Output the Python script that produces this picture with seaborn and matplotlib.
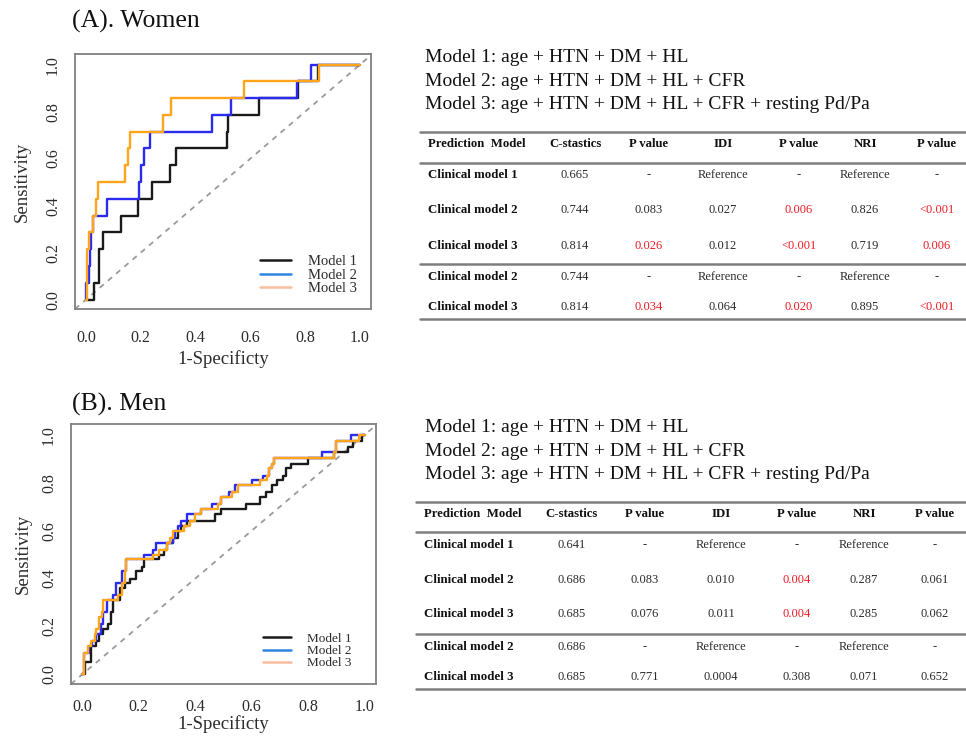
import numpy as np
import pandas as pd
import matplotlib
matplotlib.use("Agg")
import matplotlib.pyplot as plt
from matplotlib.lines import Line2D
import seaborn as sns

# ---------------- data ----------------
models = ["Model 1", "Model 2", "Model 3"]

# Women ROC curves (step vertices)
w_m1_fpr = [0, 0.029, 0.048, 0.062, 0.129, 0.189, 0.24, 0.305, 0.33, 0.513, 0.52, 0.631, 0.775, 0.845, 1.0]
w_m1_tpr = [0, 0.071, 0.214, 0.286, 0.357, 0.429, 0.5, 0.571, 0.643, 0.714, 0.786, 0.857, 0.929, 1.0, 1.0]
w_m2_fpr = [0, 0, 0.01, 0.015, 0.02, 0.025, 0.077, 0.193, 0.2, 0.21, 0.235, 0.459, 0.528, 0.769, 0.82, 1.0]
w_m2_tpr = [0, 0.071, 0.143, 0.214, 0.286, 0.357, 0.429, 0.5, 0.571, 0.643, 0.714, 0.786, 0.857, 0.929, 1.0, 1.0]
w_m3_fpr = [0, 0.003, 0.01, 0.025, 0.035, 0.045, 0.144, 0.153, 0.162, 0.282, 0.309, 0.576, 0.852, 1.0]
w_m3_tpr = [0, 0.214, 0.286, 0.357, 0.429, 0.5, 0.571, 0.643, 0.714, 0.786, 0.857, 0.929, 1.0, 1.0]

# Men ROC curves (step vertices)
m_m1_fpr = [0, 0.01, 0.03, 0.05, 0.06, 0.075, 0.09, 0.10, 0.11, 0.135, 0.15, 0.17, 0.19, 0.21, 0.22, 0.27,
            0.29, 0.30, 0.32, 0.34, 0.35, 0.37, 0.47, 0.49, 0.58, 0.63, 0.65, 0.67, 0.69, 0.71, 0.72, 0.74,
            0.80, 0.89, 0.94, 0.96, 0.99, 1.0]
m_m1_tpr = [0, 0.05, 0.12, 0.14, 0.17, 0.19, 0.21, 0.26, 0.31, 0.36, 0.38, 0.40, 0.43, 0.45, 0.48, 0.50,
            0.52, 0.55, 0.57, 0.60, 0.62, 0.64, 0.67, 0.69, 0.71, 0.74, 0.76, 0.79, 0.81, 0.83, 0.86, 0.88,
            0.905, 0.93, 0.95, 0.976, 1.0, 1.0]
m_m2_fpr = [0, 0.005, 0.025, 0.035, 0.05, 0.065, 0.075, 0.087, 0.11, 0.12, 0.14, 0.155, 0.22, 0.25, 0.26,
            0.32, 0.33, 0.34, 0.35, 0.37, 0.42, 0.46, 0.49, 0.52, 0.54, 0.60, 0.64, 0.66, 0.67, 0.68, 0.85,
            0.90, 0.95, 1.0]
m_m2_tpr = [0, 0.09, 0.12, 0.14, 0.17, 0.21, 0.26, 0.31, 0.33, 0.38, 0.43, 0.48, 0.50, 0.52, 0.55,
            0.57, 0.60, 0.62, 0.64, 0.67, 0.69, 0.71, 0.74, 0.76, 0.79, 0.81, 0.83, 0.86, 0.88, 0.905, 0.93,
            0.976, 1.0, 1.0]
m_m3_fpr = [0, 0.005, 0.02, 0.03, 0.045, 0.05, 0.06, 0.07, 0.075, 0.128, 0.14, 0.15, 0.155, 0.25, 0.27,
            0.30, 0.31, 0.32, 0.36, 0.38, 0.40, 0.42, 0.48, 0.49, 0.53, 0.55, 0.63, 0.655, 0.66, 0.67, 0.68,
            0.89, 0.90, 0.98, 1.0]
m_m3_tpr = [0, 0.09, 0.12, 0.14, 0.17, 0.19, 0.24, 0.26, 0.31, 0.33, 0.38, 0.43, 0.48, 0.50, 0.52,
            0.55, 0.57, 0.60, 0.62, 0.64, 0.67, 0.69, 0.71, 0.74, 0.76, 0.79, 0.81, 0.83, 0.86, 0.88, 0.905,
            0.93, 0.976, 1.0, 1.0]

tick_values = [0.0, 0.2, 0.4, 0.6, 0.8, 1.0]
tick_labels = ["0.0", "0.2", "0.4", "0.6", "0.8", "1.0"]

model_formulas = ["Model 1: age + HTN + DM + HL",
                  "Model 2: age + HTN + DM + HL + CFR",
                  "Model 3: age + HTN + DM + HL + CFR + resting Pd/Pa"]

table_header = ["Prediction  Model", "C-stastics", "P value", "IDI", "P value", "NRI", "P value"]
row_names = ["Clinical model 1", "Clinical model 2", "Clinical model 3", "Clinical model 2", "Clinical model 3"]

w_cstat = ["0.665", "0.744", "0.814", "0.744", "0.814"]
w_cstat_p = ["-", "0.083", "0.026", "-", "0.034"]
w_idi = ["Reference", "0.027", "0.012", "Reference", "0.064"]
w_idi_p = ["-", "0.006", "<0.001", "-", "0.020"]
w_nri = ["Reference", "0.826", "0.719", "Reference", "0.895"]
w_nri_p = ["-", "<0.001", "0.006", "-", "<0.001"]

m_cstat = ["0.641", "0.686", "0.685", "0.686", "0.685"]
m_cstat_p = ["-", "0.083", "0.076", "-", "0.771"]
m_idi = ["Reference", "0.010", "0.011", "Reference", "0.0004"]
m_idi_p = ["-", "0.004", "0.004", "-", "0.308"]
m_nri = ["Reference", "0.287", "0.285", "Reference", "0.071"]
m_nri_p = ["-", "0.061", "0.062", "-", "0.652"]

# ---------------- style ----------------
sns.set_theme(style="white")
plt.rcParams["font.family"] = ["Liberation Serif", "DejaVu Serif"]

W, H = 966, 736
fig = plt.figure(figsize=(W / 100, H / 100), dpi=100)

line_colors = {"Model 1": "#1a1a1a", "Model 2": "#2a2af0", "Model 3": "#ffa51a"}
legend_colors = ["#1a1a1a", "#2f86de", "#f6bd9e"]
axis_gray = "#808080"
text_dark = "#2b2b2b"


def px_rect(l, t, r, b):
    return [l / W, 1 - b / H, (r - l) / W, (b - t) / H]


def build_df(fprs, tprs):
    frames = []
    for name, f, t in zip(models, fprs, tprs):
        frames.append(pd.DataFrame({"fpr": f, "tpr": t, "model": name}))
    return pd.concat(frames, ignore_index=True)


def roc_panel(rect, df, xpad, xlab_y, ylab_x, leg_anchor, leg_fs, leg_spacing):
    ax = fig.add_axes(rect)
    ax.axline((0, 0), (1, 1), color="#9a9a9a", lw=1.3, ls=(0, (3, 3)), zorder=1)
    sns.lineplot(data=df, x="fpr", y="tpr", hue="model", palette=line_colors,
                 sort=False, estimator=None, drawstyle="steps-post", lw=1.7,
                 legend=False, ax=ax, zorder=3)
    ax.set_xlim(-0.04, 1.04)
    ax.set_ylim(-0.04, 1.045)
    ax.set_xticks(tick_values)
    ax.set_xticklabels(tick_labels)
    ax.set_yticks(tick_values)
    ax.set_yticklabels(tick_labels, rotation=90, va="center")
    for s in ax.spines.values():
        s.set_color(axis_gray)
        s.set_linewidth(1.3)
        s.set_visible(True)
    ax.tick_params(axis="both", which="major", direction="out", length=5, width=1.1,
                   color=axis_gray, labelcolor=text_dark, labelsize=11.5)
    ax.tick_params(axis="x", pad=xpad)
    ax.tick_params(axis="y", pad=5)
    ax.set_xlabel("1-Specificty", fontsize=13.5, color=text_dark)
    ax.set_ylabel("Sensitivity", fontsize=13.5, color=text_dark)
    ax.xaxis.set_label_coords(0.5, xlab_y)
    ax.yaxis.set_label_coords(ylab_x, 0.5)
    handles = [Line2D([0], [0], color=c, lw=1.8) for c in legend_colors]
    ax.legend(handles, models, loc="upper left", bbox_to_anchor=leg_anchor, frameon=False,
              fontsize=leg_fs, handlelength=2.1, handletextpad=1.2, labelspacing=leg_spacing,
              borderpad=0, borderaxespad=0, labelcolor=text_dark)
    return ax


women_df = build_df([w_m1_fpr, w_m2_fpr, w_m3_fpr], [w_m1_tpr, w_m2_tpr, w_m3_tpr])
men_df = build_df([m_m1_fpr, m_m2_fpr, m_m3_fpr], [m_m1_tpr, m_m2_tpr, m_m3_tpr])

roc_panel(px_rect(75, 54, 371, 309), women_df, xpad=10, xlab_y=-0.16, ylab_x=-0.15,
          leg_anchor=(0.625, 0.212), leg_fs=10.5, leg_spacing=0.03)
roc_panel(px_rect(71, 424, 376, 684), men_df, xpad=6, xlab_y=-0.118, ylab_x=-0.13,
          leg_anchor=(0.63, 0.197), leg_fs=9.5, leg_spacing=0.0)

# titles
fig.text(72 / W, 1 - 21 / H, "(A). Women", fontsize=18.5, va="center", ha="left", color="#111111")
fig.text(72 / W, 1 - 404 / H, "(B). Men", fontsize=18.5, va="center", ha="left", color="#111111")


def fx(x):
    return x / W


def fy(y):
    return 1 - y / H


def draw_block(text_baselines, line_ys, header_y, row_ys, x_left, x_first, col_x, cols, line_x0):
    for s, yb in zip(model_formulas, text_baselines):
        fig.text(fx(x_left), fy(yb), s, fontsize=14.0, ha="left", va="baseline", color="#111111")
    for ly in line_ys:
        fig.add_artist(Line2D([fx(line_x0), fx(966)], [fy(ly), fy(ly)], color="#7e7e7e",
                              lw=1.8, transform=fig.transFigure))
    fig.text(fx(x_first), fy(header_y), table_header[0], fontsize=9.2, fontweight="bold",
             ha="left", va="center", color="#111111")
    for cx, h in zip(col_x, table_header[1:]):
        fig.text(fx(cx), fy(header_y), h, fontsize=9.2, fontweight="bold",
                 ha="center", va="center", color="#111111")
    for r, (name, ry) in enumerate(zip(row_names, row_ys)):
        fig.text(fx(x_first), fy(ry), name, fontsize=9.3, fontweight="bold",
                 ha="left", va="center", color="#111111")
        for c, (cx, col) in enumerate(zip(col_x, cols)):
            val = col[r]
            color = text_dark
            if c in (1, 3, 5) and val != "-":
                if float(val.replace("<", "")) < 0.05:
                    color = "#ee1c24"
            fig.text(fx(cx), fy(ry), val, fontsize=9.0, ha="center", va="center", color=color)


draw_block([62, 86, 109], [132, 163, 264, 319], 144, [175.5, 210, 246, 277, 307],
           425, 428, [575, 649, 723, 799, 865, 937],
           [w_cstat, w_cstat_p, w_idi, w_idi_p, w_nri, w_nri_p], 420)
draw_block([432, 456, 479], [502, 532, 634, 689], 514, [545, 580, 614, 647, 677],
           425, 424, [572, 645, 721, 797, 864, 935],
           [m_cstat, m_cstat_p, m_idi, m_idi_p, m_nri, m_nri_p], 416)

fig.savefig("out.png", dpi=100, facecolor="white")
